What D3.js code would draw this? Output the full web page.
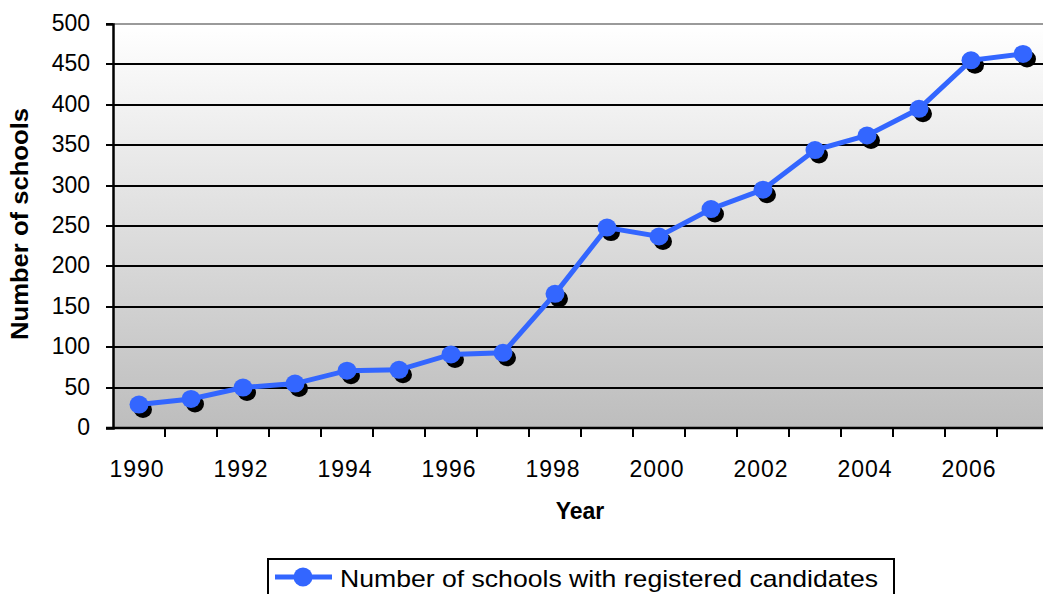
<!DOCTYPE html>
<html>
<head>
<meta charset="utf-8">
<title>Schools</title>
<style>
  body { margin: 0; background: #fff; }
  svg { display: block; font-family: "Liberation Sans", Arial, sans-serif; }
</style>
</head>
<body>
<svg width="1043" height="594"></svg>
<script src="https://d3js.org/d3.v7.min.js"></script>
<script>
// data
var years = ["1990","1991","1992","1993","1994","1995","1996","1997","1998",
             "1999","2000","2001","2002","2003","2004","2005","2006","2007"]
var schools = [29, 36, 50, 55, 71, 72, 91, 93, 166, 248, 237, 271, 295, 344, 362, 395, 455, 463]
var yearLabels = ["1990","1992","1994","1996","1998","2000","2002","2004","2006"]
var yTicks = [0, 50, 100, 150, 200, 250, 300, 350, 400, 450, 500]
var seriesName = "Number of schools with registered candidates"

var svg = d3.select("svg")
var plotLeft = 113, plotTop = 24, plotBottom = 428, step = 52

var x = d3.scaleBand().domain(years).range([plotLeft, plotLeft + step * years.length])
var y = d3.scaleLinear().domain([0, 500]).range([plotBottom, plotTop])

// plot background gradient
var grad = svg.append("defs").append("linearGradient")
  .attr("id", "bg").attr("x1", 0).attr("y1", 0).attr("x2", 0).attr("y2", 1)
grad.append("stop").attr("offset", "0%").attr("stop-color", "#ffffff")
grad.append("stop").attr("offset", "100%").attr("stop-color", "#bdbdbd")

svg.append("rect")
  .attr("x", plotLeft).attr("y", plotTop)
  .attr("width", x.range()[1] - plotLeft).attr("height", plotBottom - plotTop)
  .attr("fill", "url(#bg)")

// gridlines (snapped to whole pixels so they stay crisp)
svg.append("g").selectAll("line")
  .data(yTicks.filter(function (d) { return d > 0 }))
  .join("line")
  .attr("x1", plotLeft).attr("x2", x.range()[1])
  .attr("y1", function (d) { return Math.round(y(d)) }).attr("y2", function (d) { return Math.round(y(d)) })
  .attr("stroke", function (d) { return d === 500 ? "#9a9a9a" : "#000" })
  .attr("stroke-width", 2)

// y axis
var yAxis = svg.append("g")
  .attr("transform", "translate(" + plotLeft + ",0)")
  .call(d3.axisLeft(y).tickValues(yTicks).tickSize(7).tickPadding(16))
yAxis.select(".domain").attr("stroke", "#000").attr("stroke-width", 2.5)
yAxis.selectAll(".tick").attr("transform", function (d) { return "translate(0," + Math.round(y(d)) + ")" })
yAxis.selectAll(".tick line").attr("stroke", "#000").attr("stroke-width", 2)
yAxis.selectAll("text").attr("font-size", 23).attr("fill", "#000")
  .attr("font-family", "Liberation Sans, Arial, sans-serif")

// x axis: ticks at category edges, labels at category centres
var xAxis = svg.append("g").attr("transform", "translate(0," + plotBottom + ")")
xAxis.append("line")
  .attr("x1", plotLeft - 7).attr("x2", x.range()[1])
  .attr("stroke", "#000").attr("stroke-width", 2.5)
xAxis.selectAll(".edge")
  .data(years.slice(1))
  .join("line").attr("class", "edge")
  .attr("x1", function (d) { return x(d) }).attr("x2", function (d) { return x(d) })
  .attr("y1", 0).attr("y2", 9)
  .attr("stroke", "#000").attr("stroke-width", 2)
xAxis.selectAll(".lbl")
  .data(yearLabels)
  .join("text").attr("class", "lbl")
  .attr("x", function (d) { return x(d) + x.bandwidth() / 2 - 2 })
  .attr("y", 49)
  .attr("text-anchor", "middle")
  .attr("font-size", 23)
  .attr("letter-spacing", 1)
  .text(function (d) { return d })

// axis titles
svg.append("text")
  .attr("x", 580).attr("y", 519)
  .attr("text-anchor", "middle")
  .attr("font-size", 23).attr("font-weight", "bold")
  .text("Year")

svg.append("text")
  .attr("transform", "translate(28,224) rotate(-90)")
  .attr("text-anchor", "middle")
  .attr("font-size", 23).attr("font-weight", "bold")
  .attr("textLength", 232).attr("lengthAdjust", "spacingAndGlyphs")
  .text("Number of schools")

// series
var pts = years.map(function (d, i) { return { year: d, v: schools[i] } })
var cx = function (d) { return x(d.year) + x.bandwidth() / 2 }
var cy = function (d) { return y(d.v) }

svg.append("g").selectAll("ellipse")
  .data(pts).join("ellipse")
  .attr("cx", function (d) { return cx(d) + 4 }).attr("cy", function (d) { return cy(d) + 5 })
  .attr("rx", 9).attr("ry", 8.5)
  .attr("fill", "#000")

svg.append("path")
  .datum(pts)
  .attr("d", d3.line().x(cx).y(cy))
  .attr("fill", "none").attr("stroke", "#3366ff").attr("stroke-width", 5)

svg.append("g").selectAll("ellipse")
  .data(pts).join("ellipse")
  .attr("cx", cx).attr("cy", cy)
  .attr("rx", 9.5).attr("ry", 9)
  .attr("fill", "#3366ff")

// legend
var lg = svg.append("g")
lg.append("rect")
  .attr("x", 268).attr("y", 559).attr("width", 626).attr("height", 50)
  .attr("fill", "#fff").attr("stroke", "#000").attr("stroke-width", 2)
lg.append("line")
  .attr("x1", 275).attr("x2", 332).attr("y1", 577).attr("y2", 577)
  .attr("stroke", "#3366ff").attr("stroke-width", 5)
lg.append("ellipse")
  .attr("cx", 303).attr("cy", 577).attr("rx", 9.5).attr("ry", 9.5)
  .attr("fill", "#3366ff")
lg.append("text")
  .attr("x", 340).attr("y", 587)
  .attr("font-size", 24)
  .attr("textLength", 538).attr("lengthAdjust", "spacingAndGlyphs")
  .text(seriesName)
</script>
</body>
</html>
